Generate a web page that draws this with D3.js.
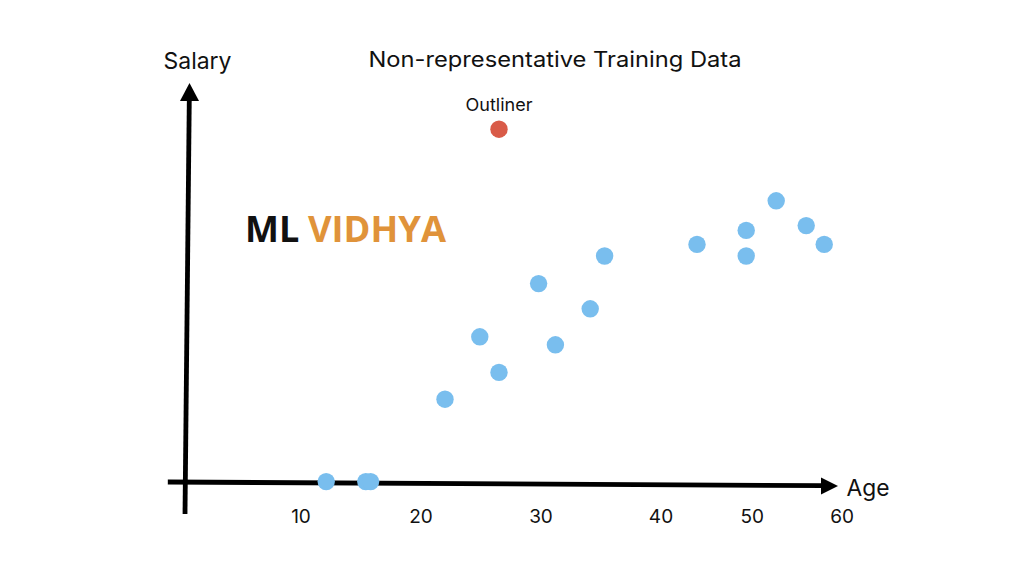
<!DOCTYPE html>
<html>
<head>
<meta charset="utf-8">
<script src="https://cdn.jsdelivr.net/npm/d3@7"></script>
<style>
  html, body { margin: 0; padding: 0; background: #ffffff; }
  svg { display: block; }
  .sf { font-family: Inter, "Liberation Sans", Arial, sans-serif; fill: #111; }
</style>
</head>
<body>
<svg id="chart" width="1024" height="576"></svg>
<script>
// ---- data ----
const title = "Non-representative Training Data";
const xAxisLabel = "Age";
const yAxisLabel = "Salary";
const brandParts = ["ML", "VIDHYA"];
const outlierLabel = "Outliner";

// training points: age, salary (salary in arbitrary units, axis has no ticks)
const ages     = [12.1, 15.4, 15.8, 22.0, 24.9, 26.5, 29.8, 31.2, 34.1, 35.3, 43.0, 47.1, 47.1, 49.6, 52.1, 53.6];
const salaries = [0.1,  0.1,  0.1,  20.7, 36.3, 27.4, 49.6, 34.3, 43.3, 56.5, 59.4, 62.9, 56.5, 70.3, 64.1, 59.4];

// outlier
const outlierAge = [26.5];
const outlierSalary = [88.2];

// x tick labels and where they sit along the age axis (as drawn in the picture)
const xTickLabels = ["10", "20", "30", "40", "50", "60"];
const xTickAt     = [10, 20, 30, 40, 47.6, 55.1];

// ---- layout ----
const svg = d3.select("#chart");
const x = d3.scaleLinear().domain([0, 40]).range([181, 661]);
const y = d3.scaleLinear().domain([0, 100]).range([482, 82]);

const blue = "#79BEEE";
const red = "#D95B48";
const orange = "#E0933A";

// X axis (slightly sloped as in the picture)
const xStart = [x(-1.1), y(0)];
const xTip = [838, 486];
svg.append("line")
  .attr("x1", xStart[0]).attr("y1", xStart[1])
  .attr("x2", xTip[0] - 15).attr("y2", xTip[1] - 0.3)
  .attr("stroke", "#000").attr("stroke-width", 4.8);
svg.append("path")
  .attr("d", `M${xTip[0]},${xTip[1]} L${xTip[0]-17},${xTip[1]-8.5} L${xTip[0]-17},${xTip[1]+8.5} Z`)
  .attr("fill", "#000");

// Y axis
const yBottom = [x(0) + 4, y(-8)];
const yTip = [189.5, 83];
svg.append("line")
  .attr("x1", yBottom[0]).attr("y1", yBottom[1])
  .attr("x2", yTip[0] - 0.2).attr("y2", yTip[1] + 15)
  .attr("stroke", "#000").attr("stroke-width", 4.8);
svg.append("path")
  .attr("d", `M${yTip[0]},${yTip[1]} L${yTip[0]-9.5},${yTip[1]+18} L${yTip[0]+9.5},${yTip[1]+18} Z`)
  .attr("fill", "#000");

// tick labels
svg.append("g").selectAll("text")
  .data(xTickLabels)
  .join("text")
  .attr("class", "sf")
  .attr("x", (d, i) => x(xTickAt[i]))
  .attr("y", 523)
  .attr("text-anchor", "middle")
  .attr("font-size", 19)
  .text(d => d);

// axis labels
svg.append("text").attr("class", "sf")
  .attr("x", 163.5).attr("y", 69)
  .attr("font-size", 23)
  .attr("textLength", 68).attr("lengthAdjust", "spacingAndGlyphs")
  .text(yAxisLabel);
svg.append("text").attr("class", "sf")
  .attr("x", 846.5).attr("y", 496)
  .attr("font-size", 23)
  .attr("textLength", 43).attr("lengthAdjust", "spacingAndGlyphs")
  .text(xAxisLabel);

// title
svg.append("text").attr("class", "sf")
  .attr("x", 368.5).attr("y", 67)
  .attr("font-size", 21.5)
  .attr("textLength", 373).attr("lengthAdjust", "spacingAndGlyphs")
  .text(title);

// brand
svg.append("text")
  .attr("x", 245).attr("y", 242)
  .attr("font-family", "'Open Sans', 'Noto Sans', sans-serif")
  .attr("font-weight", 700).attr("font-size", 36)
  .attr("fill", "#111")
  .text(brandParts[0]);
svg.append("text")
  .attr("x", 308).attr("y", 242)
  .attr("font-family", "'Open Sans', 'Noto Sans', sans-serif")
  .attr("font-weight", 700).attr("font-size", 36)
  .attr("fill", orange)
  .attr("textLength", 138).attr("lengthAdjust", "spacingAndGlyphs")
  .text(brandParts[1]);

// training points
const pts = ages.map((a, i) => ({ age: a, salary: salaries[i] }));
svg.append("g").selectAll("circle")
  .data(pts)
  .join("circle")
  .attr("cx", d => x(d.age))
  .attr("cy", d => y(d.salary))
  .attr("r", 8.7)
  .attr("fill", blue);

// outlier
const outl = outlierAge.map((a, i) => ({ age: a, salary: outlierSalary[i] }));
svg.append("g").selectAll("circle")
  .data(outl)
  .join("circle")
  .attr("cx", d => x(d.age))
  .attr("cy", d => y(d.salary))
  .attr("r", 8.7)
  .attr("fill", red);

svg.append("text").attr("class", "sf")
  .attr("x", x(outlierAge[0])).attr("y", 110.5)
  .attr("text-anchor", "middle").attr("font-size", 17.5)
  .attr("textLength", 67).attr("lengthAdjust", "spacingAndGlyphs")
  .text(outlierLabel);
</script>
</body>
</html>
